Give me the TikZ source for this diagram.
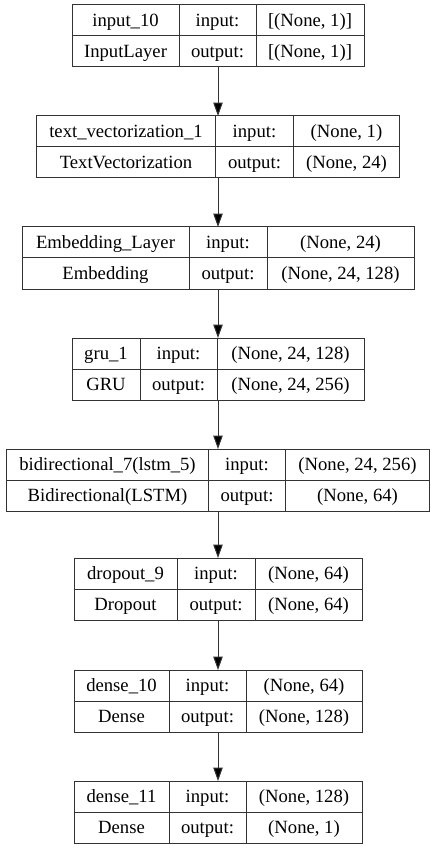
\documentclass[tikz,border=0pt]{standalone}
\usepackage{fontspec}
\setmainfont{Liberation Serif}
\usetikzlibrary{arrows.meta}

\tikzset{
  cell/.style={draw=black!80, line width=0.75pt, minimum height=23.25pt,
    inner sep=0pt, outer sep=0pt, text height=10.5pt, text depth=1.2pt,
    font=\fontsize{14}{16}\selectfont},
  link/.style={draw=black!80, line width=0.75pt,
    -{Triangle[length=10pt,width=7pt,fill=black]}}
}

% one layer: id, top, widths of the three columns, name, type, input, output
\newcommand{\layerbox}[9]{%
  \node[anchor=north, minimum width=(#3+#4+#5)*0.75pt, minimum height=46.5pt,
    inner sep=0pt, outer sep=0pt] (#1) at (218,#2) {};
  \node[cell, minimum width=#3*0.75pt, anchor=north west] (#1-name) at (#1.north west) {#6};
  \node[cell, minimum width=#4*0.75pt, anchor=north west] (#1-in) at (#1-name.north east) {input:};
  \node[cell, minimum width=#5*0.75pt, anchor=north west] (#1-inval) at (#1-in.north east) {#8};
  \node[cell, minimum width=#3*0.75pt, anchor=north west] (#1-type) at (#1-name.south west) {#7};
  \node[cell, minimum width=#4*0.75pt, anchor=north west] (#1-out) at (#1-type.north east) {output:};
  \node[cell, minimum width=#5*0.75pt, anchor=north west] (#1-outval) at (#1-out.north east) {#9};
}

\begin{document}
\begin{tikzpicture}[x=0.75pt, y=-0.75pt]
  \useasboundingbox (0,0) rectangle (436,848);
  \layerbox{input}{5}{107}{77}{108}{input\_10}{InputLayer}{[(None, 1)]}{[(None, 1)]}
  \layerbox{textvec}{116}{179}{78}{106}{text\_vectorization\_1}{TextVectorization}{(None, 1)}{(None, 24)}
  \layerbox{embed}{227}{167}{78}{147}{Embedding\_Layer}{Embedding}{(None, 24)}{(None, 24, 128)}
  \layerbox{gru}{338}{68}{77}{147}{gru\_1}{GRU}{(None, 24, 128)}{(None, 24, 256)}
  \layerbox{bilstm}{449}{202}{77}{144}{bidirectional\_7(lstm\_5)}{Bidirectional(LSTM)}{(None, 24, 256)}{(None, 64)}
  \layerbox{dropout}{558}{103}{78}{107}{dropout\_9}{Dropout}{(None, 64)}{(None, 64)}
  \layerbox{dense10}{670}{95}{77}{116}{dense\_10}{Dense}{(None, 64)}{(None, 128)}
  \layerbox{dense11}{781}{95}{77}{116}{dense\_11}{Dense}{(None, 128)}{(None, 1)}
  \foreach \a/\b in {input/textvec, textvec/embed, embed/gru, gru/bilstm,
      bilstm/dropout, dropout/dense10, dense10/dense11}
    \draw[link] (\a.south) -- (\b.north);
\end{tikzpicture}
\end{document}
